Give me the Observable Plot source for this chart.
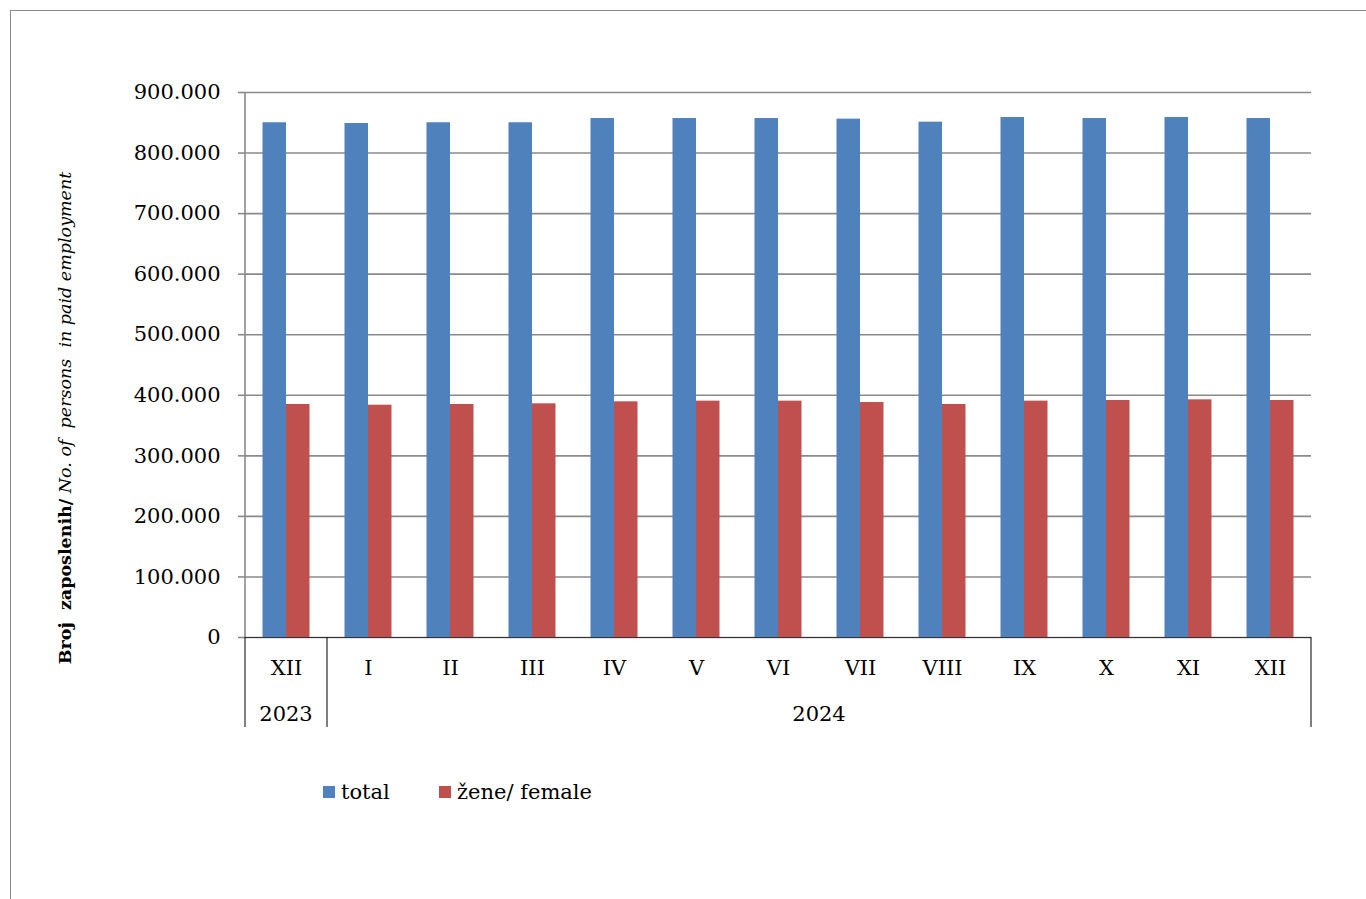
<!DOCTYPE html>
<html><head><meta charset="utf-8">
<script src="https://cdn.jsdelivr.net/npm/d3@7"></script>
<script src="https://cdn.jsdelivr.net/npm/@observablehq/plot@0.6"></script>
<style>
body{margin:0;background:#fff;font-family:"DejaVu Serif",serif;width:1366px;height:899px;overflow:hidden;position:relative}
#frame{position:absolute;left:10px;top:10px;width:1400px;height:1000px;border:1.5px solid #8a8a8a;pointer-events:none}
#chart{position:absolute;left:0;top:0}
.lg{position:absolute;top:780px;font-size:21px;display:flex;align-items:center;white-space:nowrap}
.sw{width:12px;height:12px;display:inline-block;margin-right:6px}
</style></head>
<body>
<div id="chart"></div>
<div class="lg" id="lg1" style="left:323px"><span class="sw" style="background:#4F81BD"></span><span>total</span></div>
<div class="lg" id="lg2" style="left:439px"><span class="sw" style="background:#C0504D"></span><span>žene/ female</span></div>
<div id="frame"></div>
<script>
const months = ["XII","I","II","III","IV","V","VI","VII","VIII","IX","X","XI","XII"];
const years  = ["2023","2024","2024","2024","2024","2024","2024","2024","2024","2024","2024","2024","2024"];
const total  = [850000, 848800, 850000, 850000, 857000, 857000, 857000, 856000, 851000, 858700, 857000, 858700, 857000];
const female = [384800, 383600, 384800, 385900, 389200, 390300, 390300, 388000, 384800, 390300, 391400, 392500, 391400];
const yTicks = [0,100000,200000,300000,400000,500000,600000,700000,800000,900000];

const keys = months.map((m,i)=>years[i]+"-"+m+"-"+i);
const totalData = keys.map((k,i)=>({key:k, value:total[i]}));
const femaleData = keys.map((k,i)=>({key:k, value:female[i]}));
const fmt = d3.formatLocale({decimal:",",thousands:".",grouping:[3],currency:["",""]}).format(",");

const chart = Plot.plot({
  width:1366, height:740,
  marginLeft:245, marginRight:55, marginTop:92, marginBottom:103,
  style:{fontFamily:"DejaVu Serif, serif", fontSize:"21px", color:"#000", background:"transparent"},
  x:{domain:keys, padding:0, label:null, axis:null},
  y:{domain:[0,900000], label:null, axis:null},
  marks:[
    Plot.gridY(yTicks, {stroke:"#8a8a8a", strokeOpacity:1, strokeWidth:1.6}),
    Plot.barY(totalData, {x:"key", y:"value", fill:"#4F81BD", insetLeft:17.5, insetRight:41}),
    Plot.barY(femaleData, {x:"key", y:"value", fill:"#C0504D", insetLeft:41, insetRight:17.5}),
    Plot.axisY({ticks:yTicks, tickSize:7, tickPadding:18, tickFormat:fmt, stroke:"#8a8a8a", strokeWidth:1.6, fontSize:21}),
    Plot.axisX({tickSize:0, tickPadding:23, tickFormat:k=>k.split("-")[1], fontSize:21}),
    Plot.ruleY([0], {stroke:"#333", strokeWidth:1.2})
  ]
});
document.getElementById("chart").appendChild(chart);

const svg = d3.select(chart);
const xs = chart.scale("x"), ys = chart.scale("y");
const bw = xs.bandwidth;
const yTop = ys.apply(900000), yBot = ys.apply(0);
// y axis line
svg.append("line").attr("x1",xs.apply(keys[0])).attr("x2",xs.apply(keys[0]))
  .attr("y1",yTop).attr("y2",yBot).attr("stroke","#8a8a8a").attr("stroke-width",1.6);
// year groups
const groups = d3.groups(keys.map((k,i)=>({k,y:years[i]})), d=>d.y);
const seps = new Set();
groups.forEach(([yr, arr])=>{
  const x0 = xs.apply(arr[0].k), x1 = xs.apply(arr[arr.length-1].k)+bw;
  seps.add(x0); seps.add(x1);
  svg.append("text").attr("x",(x0+x1)/2).attr("y",yBot+84).attr("text-anchor","middle")
    .attr("font-size",21).attr("font-family","DejaVu Serif, serif").text(yr);
});
seps.forEach(x=>{
  svg.append("line").attr("x1",x).attr("x2",x).attr("y1",yBot).attr("y2",yBot+90)
    .attr("stroke","#000").attr("stroke-width",1);
});
// y axis title
const t = svg.append("text").attr("transform",`translate(71,418) rotate(-90)`)
  .attr("text-anchor","middle").attr("font-size",17.5).attr("font-family","DejaVu Serif, serif")
  .style("white-space","pre");
t.append("tspan").attr("font-weight","bold").text("Broj  zaposlenih/");
t.append("tspan").attr("font-style","italic").text(" No. of  persons  in paid employment");
</script>
</body></html>
